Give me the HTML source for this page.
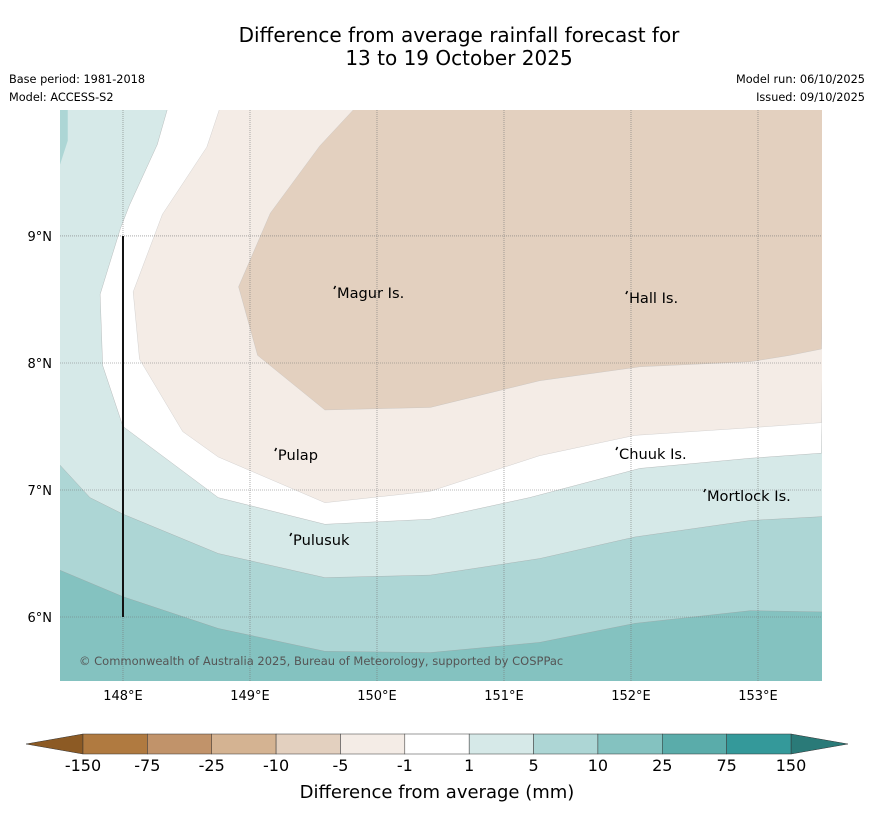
<!DOCTYPE html>
<html><head><meta charset="utf-8"><style>
body{margin:0;background:#fff;font-family:"Liberation Sans","DejaVu Sans",sans-serif;}
</style></head><body>
<svg id="chart" width="873" height="816" xmlns="http://www.w3.org/2000/svg" font-family="DejaVu Sans, Liberation Sans, sans-serif">
<rect width="873" height="816" fill="#fff"/>
<text x="459" y="42" font-size="20" text-anchor="middle">Difference from average rainfall forecast for</text>
<text x="459" y="65" font-size="20" text-anchor="middle">13 to 19 October 2025</text>
<text x="9" y="83" font-size="11.3">Base period: 1981-2018</text>
<text x="9" y="101" font-size="11.3">Model: ACCESS-S2</text>
<text x="865" y="83" font-size="11.3" text-anchor="end">Model run: 06/10/2025</text>
<text x="865" y="101" font-size="11.3" text-anchor="end">Issued: 09/10/2025</text>
<g id="map"></g>
<g id="cbar"></g>
<text x="437" y="798" font-size="18" text-anchor="middle">Difference from average (mm)</text>
</svg>
<script>
const NS="http://www.w3.org/2000/svg";
const lonMin=147.504, lonMax=153.504, latMin=5.496, latMax=9.992;
const X0=60,X1=822,Y0=110,Y1=681;
const lonTicks=[148,149,150,151,152,153];
const latTicks=[6,7,8,9];
const c510=[[147.5,6.37],[148,6.16],[148.75,5.91],[149.59,5.73],[150.42,5.72],[151.28,5.8],[152.03,5.95],[152.94,6.05],[153.5,6.04]];
const c15=[[147.5,7.2],[147.74,6.94],[148,6.81],[148.75,6.5],[149.59,6.31],[150.42,6.33],[151.28,6.46],[152.03,6.63],[152.94,6.76],[153.5,6.79]];
const cWhite=[[153.5,7.29],[152.94,7.25],[152.07,7.17],[151.2,6.94],[150.42,6.77],[149.59,6.73],[148.75,6.94],[148,7.5],[147.84,7.98],[147.82,8.54],[147.98,9.06],[148.05,9.24],[148.27,9.72],[148.35,10]];
const cM5=[[153.5,7.53],[152.94,7.49],[152.03,7.43],[151.28,7.27],[150.42,6.99],[149.59,6.9],[148.75,7.26],[148.47,7.46],[148.13,8.03],[148.08,8.56],[148.31,9.17],[148.66,9.7],[148.76,10]];
const cM10=[[153.5,8.11],[153.25,8.06],[152.94,8.01],[152.07,7.97],[151.28,7.86],[150.42,7.65],[149.59,7.63],[149.06,8.06],[148.91,8.6],[149.16,9.18],[149.55,9.71],[149.82,10]];
const colorsFill=["#84c2c0","#add6d5","#d6e9e8","#ffffff","#f4ece6","#e3d0bf"];
const places=["Magur Is.","Hall Is.","Pulap","Chuuk Is.","Mortlock Is.","Pulusuk"];
const placeLon=[149.685,151.984,149.22,151.906,152.598,149.339];
const placeLat=[8.512,8.472,7.236,7.244,6.913,6.567];
const barLevels=["-150","-75","-25","-10","-5","-1","1","5","10","25","75","150"];
const barColors=["#b07a40","#c1936a","#d4b392","#e3d0bf","#f4ece6","#ffffff","#d6e9e8","#add6d5","#84c2c0","#5aacaa","#34999a"];
function sx(lon){return X0+(lon-lonMin)/(lonMax-lonMin)*(X1-X0);}
function sy(lat){return Y1-(lat-latMin)/(latMax-latMin)*(Y1-Y0);}
function mk(t,a,p){const e=document.createElementNS(NS,t);for(const k in a)e.setAttribute(k,a[k]);p.appendChild(e);return e;}
const map=document.getElementById('map');
const cp=mk('clipPath',{id:'mc'},map);mk('rect',{x:X0,y:Y0,width:X1-X0,height:Y1-Y0},cp);
const fills=mk('g',{'clip-path':'url(#mc)'},map);
let base=mk('rect',{x:X0,y:Y0,width:X1-X0,height:Y1-Y0,fill:colorsFill[0]},fills);


function topPoly(line){
  let pts=line.map(p=>sx(p[0])+','+sy(p[1]));
  return pts.join(' ')+' '+(X1+5)+','+sy(line[line.length-1][1])+' '+(X1+5)+','+(Y0-5)+' '+(X0-5)+','+(Y0-5)+' '+(X0-5)+','+sy(line[0][1]);
}
function rightPoly(line){
  let pts=line.map(p=>sx(p[0])+','+sy(p[1]));
  return pts.join(' ')+' '+(X1+5)+','+(Y0-5);
}
let p1=mk('polygon',{points:topPoly(c510),fill:colorsFill[1],stroke:'#999','stroke-width':0.3},fills);


let p2=mk('polygon',{points:topPoly(c15),fill:colorsFill[2],stroke:'#999','stroke-width':0.3},fills);


let p2b=mk('polygon',{points:sx(147.5)+','+sy(10)+' '+sx(147.565)+','+sy(10)+' '+sx(147.565)+','+sy(9.75)+' '+sx(147.5)+','+sy(9.55),fill:colorsFill[1]},fills);


let p3=mk('polygon',{points:rightPoly(cWhite),fill:colorsFill[3],stroke:'#999','stroke-width':0.3},fills);


let p4=mk('polygon',{points:rightPoly(cM5),fill:colorsFill[4],stroke:'#bbb','stroke-width':0.3},fills);


let p5=mk('polygon',{points:rightPoly(cM10),fill:colorsFill[5],stroke:'#bbb','stroke-width':0.3},fills);


lonTicks.forEach(l=>{
  let g=mk('line',{x1:sx(l),x2:sx(l),y1:Y0,y2:Y1,stroke:'#777','stroke-width':0.6,'stroke-dasharray':'1,1'},map);
  
  
  let t=mk('text',{x:sx(l),y:Y1+19,'font-size':13,'text-anchor':'middle'},map);t.textContent=l+'°E';
  
  
});
latTicks.forEach(l=>{
  let g=mk('line',{x1:X0,x2:X1,y1:sy(l),y2:sy(l),stroke:'#777','stroke-width':0.6,'stroke-dasharray':'1,1'},map);
  
  
  let t=mk('text',{x:X0-8,y:sy(l)+5,'font-size':13,'text-anchor':'end'},map);t.textContent=l+'°N';
  
  
});
let bl=mk('line',{x1:sx(148),x2:sx(148),y1:sy(9),y2:sy(6),stroke:'#111','stroke-width':2},map);


places.forEach((n,i)=>{
  let x=sx(placeLon[i]),y=sy(placeLat[i]);
  let d=mk('path',{d:`M${x-3},${y-9} l1.5,-3`,stroke:'#000','stroke-width':1.5},map);
  
  
  let t=mk('text',{x:x,y:y,'font-size':14.6},map);t.textContent=n;
  
  
});
let cr=mk('text',{x:79,y:665,'font-size':11.5,fill:'#555'},map);cr.textContent='© Commonwealth of Australia 2025, Bureau of Meteorology, supported by COSPPac';


const cb=document.getElementById('cbar');
const bx0=83,bx1=791,by0=734,by1=754,bw=(bx1-bx0)/barColors.length;
let lt=mk('polygon',{points:`26,744 ${bx0},${by0} ${bx0},${by1}`,fill:'#8c5a24',stroke:'#333','stroke-width':0.5},cb);


let rt=mk('polygon',{points:`848,744 ${bx1},${by0} ${bx1},${by1}`,fill:'#2a7a78',stroke:'#333','stroke-width':0.5},cb);


barColors.forEach((c,i)=>{
  let r=mk('rect',{x:bx0+i*bw,y:by0,width:bw,height:by1-by0,fill:c,stroke:'#333','stroke-width':0.5},cb);
  
  
});
barLevels.forEach((l,i)=>{
  let t=mk('text',{x:bx0+i*bw,y:771,'font-size':16,'text-anchor':'middle'},cb);t.textContent=l;
  
  
});
</script>
</body></html>
